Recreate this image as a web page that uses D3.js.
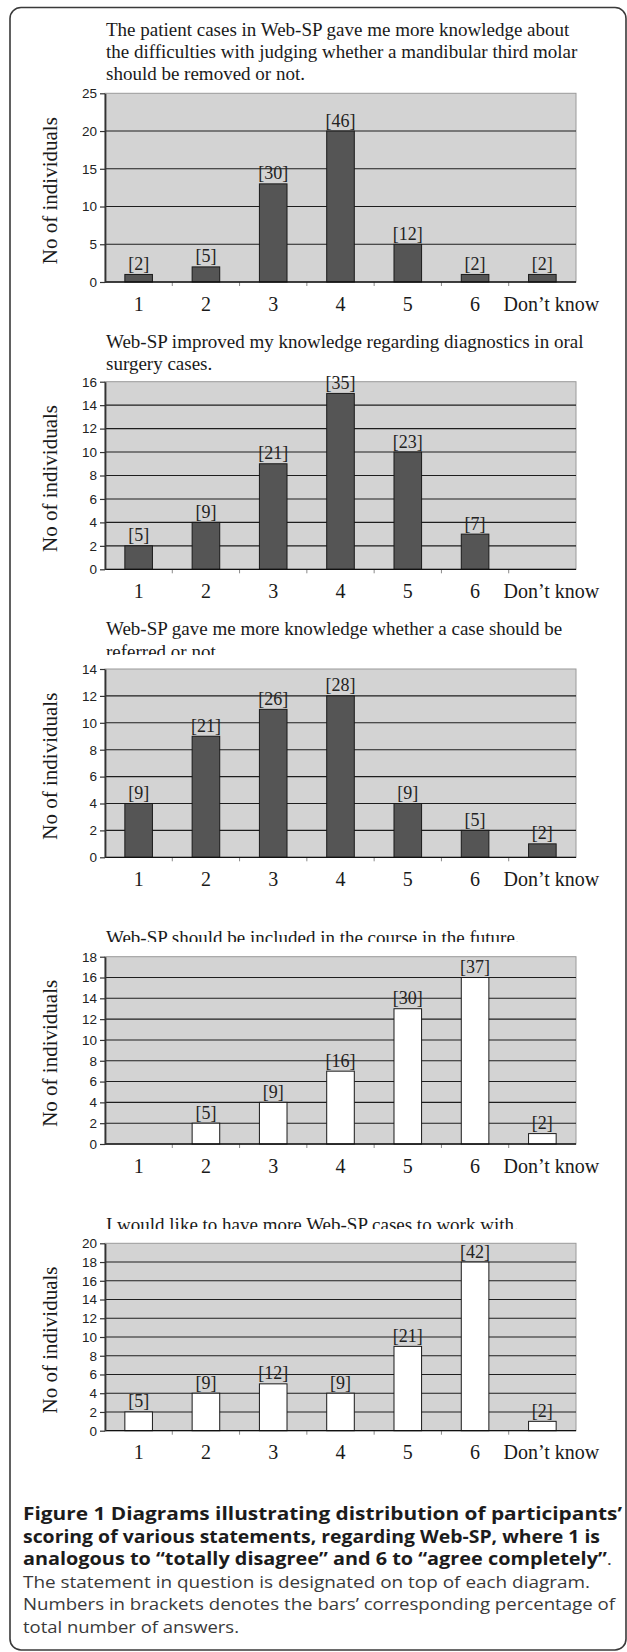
<!DOCTYPE html>
<html>
<head>
<meta charset="utf-8">
<script src="https://cdn.jsdelivr.net/npm/d3@7"></script>
<style>
  html, body { margin: 0; padding: 0; background: #ffffff; }
  svg { display: block; }
</style>
</head>
<body>
<svg id="fig" width="627" height="1652"></svg>
<script>
// Response categories shared by every diagram
const categories = ["1", "2", "3", "4", "5", "6", "Don\u2019t know"];

// Statements printed above each diagram (one entry per printed line)
const title1 = ["The patient cases in Web-SP gave me more knowledge about",
                "the difficulties with judging whether a mandibular third molar",
                "should be removed or not."];
const title2 = ["Web-SP improved my knowledge regarding diagnostics in oral",
                "surgery cases."];
const title3 = ["Web-SP gave me more knowledge whether a case should be",
                "referred or not"];
const title4 = ["Web-SP should be included in the course in the future."];
const title5 = ["I would like to have more Web-SP cases to work with."];

// Number of individuals per category
const counts1 = [1, 2, 13, 20, 5, 1, 1];
const counts2 = [2, 4, 9, 15, 10, 3, 0];
const counts3 = [4, 9, 11, 12, 4, 2, 1];
const counts4 = [0, 2, 4, 7, 13, 16, 1];
const counts5 = [2, 4, 5, 4, 9, 18, 1];

// Percentage of all answers, shown in brackets above the bars
const pct1 = [2, 5, 30, 46, 12, 2, 2];
const pct2 = [5, 9, 21, 35, 23, 7, null];
const pct3 = [9, 21, 26, 28, 9, 5, 2];
const pct4 = [null, 5, 9, 16, 30, 37, 2];
const pct5 = [5, 9, 12, 9, 21, 42, 2];

// Y-axis maxima and tick steps
const yMax = [25, 16, 14, 18, 20];
const yStep = [5, 2, 2, 2, 2];

const yAxisTitle = "No of individuals";

const captionBold = [
  "Figure 1 Diagrams illustrating distribution of participants\u2019",
  "scoring of various statements, regarding Web-SP, where 1 is",
  "analogous to \u201ctotally disagree\u201d and 6 to \u201cagree completely\u201d"
];
const captionRegular = [
  "The statement in question is designated on top of each diagram.",
  "Numbers in brackets denotes the bars\u2019 corresponding percentage of",
  "total number of answers."
];

const panels = [
  { title: title1, counts: counts1, pct: pct1, max: yMax[0], step: yStep[0], fill: "#555555" },
  { title: title2, counts: counts2, pct: pct2, max: yMax[1], step: yStep[1], fill: "#555555" },
  { title: title3, counts: counts3, pct: pct3, max: yMax[2], step: yStep[2], fill: "#555555" },
  { title: title4, counts: counts4, pct: pct4, max: yMax[3], step: yStep[3], fill: "#ffffff" },
  { title: title5, counts: counts5, pct: pct5, max: yMax[4], step: yStep[4], fill: "#ffffff" }
];

// Page geometry for each diagram: plot box, title baselines, title clip edge
const frames = [
  { top: 93.3,   bottom: 282.0,  titleY: [36, 58, 80],  clip: null },
  { top: 381.7,  bottom: 569.3,  titleY: [348, 370],    clip: null },
  { top: 669.0,  bottom: 857.3,  titleY: [635, 658],    clip: 655 },
  { top: 956.7,  bottom: 1144.0, titleY: [944],         clip: 942 },
  { top: 1243.3, bottom: 1430.7, titleY: [1231],        clip: 1229 }
];

const plotLeft = 105, plotRight = 576, titleX = 106;
const serif = "'Liberation Serif', 'Times New Roman', Times, serif";
const sans = "'Liberation Sans', Arial, Helvetica, sans-serif";

const svg = d3.select("#fig");
const defs = svg.append("defs");

// Rounded frame around the whole figure
svg.append("rect")
  .attr("x", 10).attr("y", 7.5)
  .attr("width", 616).attr("height", 1642.5)
  .attr("rx", 11).attr("ry", 11)
  .attr("fill", "none")
  .attr("stroke", "#3a3a3a")
  .attr("stroke-width", 1.6);

const x = d3.scaleBand()
  .domain(categories)
  .range([plotLeft, plotRight])
  .paddingInner(0.59)
  .paddingOuter(0.295);

panels.forEach((p, i) => {
  const f = frames[i];
  const g = svg.append("g").attr("class", "panel-" + (i + 1));

  const y = d3.scaleLinear().domain([0, p.max]).range([f.bottom, f.top]);
  const ticks = d3.range(0, p.max + p.step / 2, p.step);

  // statement above the diagram
  const tg = g.append("g");
  if (f.clip !== null) {
    defs.append("clipPath").attr("id", "tclip" + i)
      .append("rect").attr("x", 0).attr("y", f.titleY[0] - 40)
      .attr("width", 627).attr("height", f.clip - (f.titleY[0] - 40));
    tg.attr("clip-path", "url(#tclip" + i + ")");
  }
  tg.selectAll("text").data(p.title).join("text")
    .attr("x", titleX)
    .attr("y", (d, k) => f.titleY[k])
    .attr("font-family", serif)
    .attr("font-size", 19)
    .attr("fill", "#1a1a1a")
    .text(d => d);

  // plot background
  g.append("rect")
    .attr("x", plotLeft).attr("y", f.top)
    .attr("width", plotRight - plotLeft).attr("height", f.bottom - f.top)
    .attr("fill", "#d3d3d3")
    .attr("stroke", "#9a9a9a")
    .attr("stroke-width", 1);

  // horizontal gridlines
  g.append("g").selectAll("line").data(ticks.filter(t => t > 0 && t < p.max)).join("line")
    .attr("x1", plotLeft).attr("x2", plotRight)
    .attr("y1", d => y(d)).attr("y2", d => y(d))
    .attr("stroke", "#1e1e1e")
    .attr("stroke-width", 1.1);

  // small category separators under the baseline
  g.append("g").selectAll("line").data(d3.range(1, categories.length)).join("line")
    .attr("x1", k => plotLeft + k * x.step())
    .attr("x2", k => plotLeft + k * x.step())
    .attr("y1", f.bottom).attr("y2", f.bottom + 4)
    .attr("stroke", "#8a8a8a").attr("stroke-width", 1);

  // bars
  const rows = categories.map((c, k) => ({ c, v: p.counts[k], pct: p.pct[k] }));
  g.append("g").selectAll("rect").data(rows.filter(r => r.v > 0)).join("rect")
    .attr("x", d => x(d.c))
    .attr("y", d => y(d.v))
    .attr("width", x.bandwidth())
    .attr("height", d => y(0) - y(d.v))
    .attr("fill", p.fill)
    .attr("stroke", "#1a1a1a")
    .attr("stroke-width", 1);

  // bracketed percentages
  g.append("g").selectAll("text").data(rows.filter(r => r.pct !== null)).join("text")
    .attr("x", d => x(d.c) + x.bandwidth() / 2)
    .attr("y", d => y(d.v) - 4.5)
    .attr("text-anchor", "middle")
    .attr("font-family", serif)
    .attr("font-size", 18)
    .attr("fill", "#222222")
    .text(d => "[" + d.pct + "]");

  // x baseline
  g.append("line")
    .attr("x1", plotLeft).attr("x2", plotRight)
    .attr("y1", f.bottom).attr("y2", f.bottom)
    .attr("stroke", "#111111").attr("stroke-width", 1.3);

  // y axis
  const yAxis = d3.axisLeft(y).tickValues(ticks).tickSize(5).tickSizeOuter(0).tickPadding(3);
  const ya = g.append("g").attr("transform", `translate(${plotLeft},0)`).call(yAxis);
  ya.select(".domain").attr("stroke", "#333333").attr("stroke-width", 1.8);
  ya.selectAll(".tick line").attr("stroke", "#333333").attr("stroke-width", 1.2);
  ya.selectAll(".tick text")
    .attr("font-family", sans).attr("font-size", 13.5).attr("fill", "#222222");

  // category labels (the long last label sits a little right of its band centre)
  g.append("g").selectAll("text").data(categories).join("text")
    .attr("x", d => x(d) + x.bandwidth() / 2)
    .attr("dx", (d, k) => k === categories.length - 1 ? 9 : 0)
    .attr("y", f.bottom + 28.5)
    .attr("text-anchor", "middle")
    .attr("font-family", serif)
    .attr("font-size", 20)
    .attr("fill", "#1a1a1a")
    .text(d => d);

  // y-axis title
  const cy = (f.top + f.bottom) / 2 + 3;
  g.append("text")
    .attr("transform", `translate(57,${cy}) rotate(-90)`)
    .attr("text-anchor", "middle")
    .attr("font-family", serif)
    .attr("font-size", 21)
    .attr("fill", "#1a1a1a")
    .text(yAxisTitle);
});

// Figure caption: each printed line stretched to its own width
const capFont = "'Open Sans', 'Noto Sans', sans-serif";
const capX = 23;
const capY = [1520, 1542.5, 1565, 1587.5, 1610, 1632.5];
const boldWidths = [599, 577, 589];
const regWidths = [567, 592, 216];

const cap = svg.append("g").attr("class", "caption");
captionBold.forEach((line, k) => {
  const t = cap.append("text")
    .attr("x", capX).attr("y", capY[k])
    .attr("font-family", capFont)
    .attr("font-size", 17)
    .attr("font-weight", 700)
    .attr("fill", "#1c1c1c")
    .attr("textLength", boldWidths[k])
    .attr("lengthAdjust", "spacingAndGlyphs")
    .text(line);
  if (k === captionBold.length - 1) {
    t.append("tspan").attr("font-weight", 400).attr("fill", "#3a3a3a").text(".");
  }
});
captionRegular.forEach((line, k) => {
  cap.append("text")
    .attr("x", capX).attr("y", capY[3 + k])
    .attr("font-family", capFont)
    .attr("font-size", 17)
    .attr("font-weight", 400)
    .attr("fill", "#3a3a3a")
    .attr("textLength", regWidths[k])
    .attr("lengthAdjust", "spacingAndGlyphs")
    .text(line);
});
</script>
</body>
</html>
